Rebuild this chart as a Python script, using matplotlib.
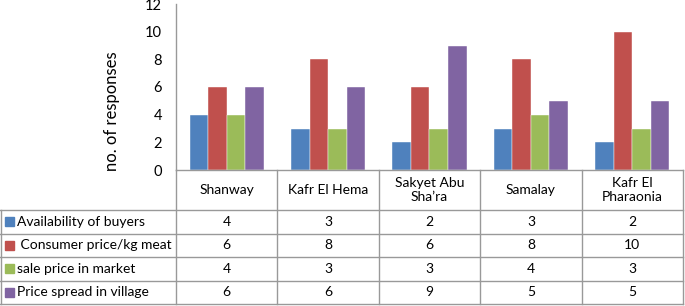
import matplotlib
matplotlib.use("Agg")
import matplotlib.pyplot as plt
import numpy as np

villages = ["Shanway", "Kafr El Hema", "Sakyet Abu\nSha\u2019ra", "Samalay", "Kafr El\nPharaonia"]
series_names = ["Availability of buyers", " Consumer price/kg meat", "sale price in market", "Price spread in village"]
availability = [4, 3, 2, 3, 2]
consumer_price = [6, 8, 6, 8, 10]
sale_price = [4, 3, 3, 4, 3]
price_spread = [6, 6, 9, 5, 5]
series = [availability, consumer_price, sale_price, price_spread]
colors = ["#4F81BD", "#C0504D", "#9BBB59", "#8064A2"]
yticks = [0, 2, 4, 6, 8, 10, 12]

W, H = 685, 306
plt.rcParams['font.family'] = ['Lato', 'DejaVu Sans']
fig = plt.figure(figsize=(W / 100, H / 100), dpi=100)

x0, x1 = 176, 683
ytop, ybase = 4, 170
ax = fig.add_axes([x0 / W, 1 - ybase / H, (x1 - x0) / W, (ybase - ytop) / H])
n = len(villages)
x = np.arange(n)
bw = 0.183
for i, (vals, c) in enumerate(zip(series, colors)):
    ax.bar(x + (i - 1.5) * bw, vals, width=bw, color=c, edgecolor="white", linewidth=0.3)
ax.set_xlim(-0.5, n - 0.5)
ax.set_ylim(0, 12)
ax.set_yticks(yticks)
ax.set_yticklabels([str(t) for t in yticks], fontsize=10.5)
ax.tick_params(axis='y', length=0, pad=10)
ax.set_xticks([])
for s in ["top", "right", "bottom"]:
    ax.spines[s].set_visible(False)
ax.spines["left"].set_color("#999999")
ax.spines["left"].set_linewidth(1.0)
ax.patch.set_alpha(0)
fig.text(112 / W, 1 - 111 / H, "no. of responses", rotation=90, ha="center", va="center", fontsize=12)

# table overlay in pixel coordinates
tax = fig.add_axes([0, 0, 1, 1])
tax.set_xlim(0, W)
tax.set_ylim(H, 0)
tax.axis("off")
lc = "#999999"
col_edges = np.linspace(x0, x1, n + 1)
row_edges = [210, 233.5, 257, 280.5, 304]
tax.plot([x0, x1], [ybase, ybase], color=lc, lw=1.0)
tax.plot([x0, x0], [ybase, 304], color=lc, lw=1.0)
for ce in col_edges[1:]:
    tax.plot([ce, ce], [ybase, 304], color=lc, lw=1.0)
for re in row_edges:
    tax.plot([0, x1], [re, re], color=lc, lw=1.0)
tax.plot([0.8, 0.8], [row_edges[0], row_edges[-1]], color=lc, lw=1.0)

centers = (col_edges[:-1] + col_edges[1:]) / 2
for cx, v in zip(centers, villages):
    tax.text(cx, 190, v, ha="center", va="center", fontsize=10, linespacing=1.15)
for r, (name, vals, c) in enumerate(zip(series_names, series, colors)):
    cy = (row_edges[r] + row_edges[r + 1]) / 2
    tax.add_patch(plt.Rectangle((5, cy - 4.5), 9, 9, color=c))
    tax.text(17, cy, name, ha="left", va="center", fontsize=10)
    for cx, v in zip(centers, vals):
        tax.text(cx, cy, str(v), ha="center", va="center", fontsize=10)

fig.savefig("out.png", dpi=100)
